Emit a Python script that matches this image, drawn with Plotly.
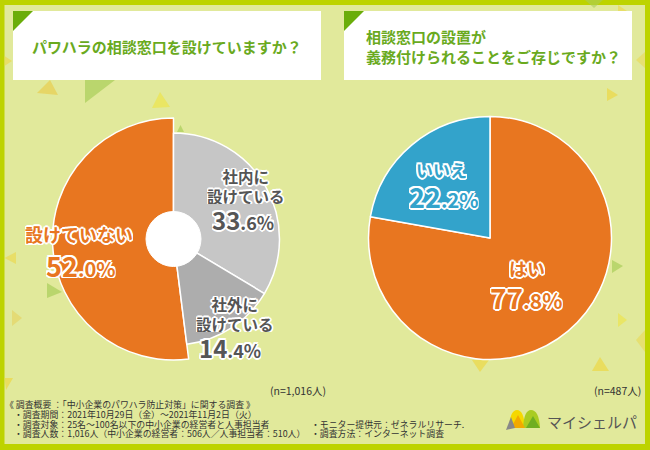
import plotly.graph_objects as go

# ---------------- data ----------------
q1_title = "パワハラの相談窓口を設けていますか？"
q1_labels = ["社内に<br>設けている", "社外に<br>設けている", "設けていない"]
q1_values = [33.6, 14.4, 52.0]
q1_n = "(n=1,016人)"

q2_title = "相談窓口の設置が<br>義務付けられることをご存じですか？"
q2_labels = ["はい", "いいえ"]
q2_values = [77.8, 22.2]
q2_n = "(n=487人)"

footer_left = [
    "《 調査概要 ：「中小企業のパワハラ防止対策」に関する調査 》",
    "・調査期間：2021年10月29日（金）～2021年11月2日（火）",
    "・調査対象：25名～100名以下の中小企業の経営者と人事担当者",
    "・調査人数：1,016人（中小企業の経営者：506人／人事担当者：510人）",
]
footer_right = [
    "・モニター提供元：ゼネラルリサーチ.",
    "・調査方法：インターネット調査",
]
brand = "マイシェルパ"

# ---------------- styles ----------------
W, H = 650, 450
BG = "#E1E99B"
FRAME = "#BDD300"
ORANGE = "#E87620"
GRAY_L = "#C6C6C6"
GRAY_D = "#ADADAD"
BLUE = "#33A3CB"
TITLE_GREEN = "#6AAA1E"
CORNER_GREEN = "#6AAD0A"
TXT = "#333333"
CLEAR = "rgba(0,0,0,0)"
FONT = "Noto Sans CJK JP"


def dom_x(cx, r):
    return [(cx - r) / W, (cx + r) / W]


def dom_y(cy, r):
    return [1 - (cy + r) / H, 1 - (cy - r) / H]


def outline(w=2, c="white"):
    s = []
    for dx, dy in [(w, 0), (-w, 0), (0, w), (0, -w), (w * .7, w * .7), (-w * .7, -w * .7), (w * .7, -w * .7), (-w * .7, w * .7)]:
        s.append(f"{dx:.1f}px {dy:.1f}px 0px {c}")
    return ", ".join(s)


def pct_text(v, big, small):
    whole, dec = f"{v:.1f}".split(".")
    return f"<span style='font-size:{big}px'>{whole}</span><span style='font-size:{small}px'>.{dec}%</span>"


fig = go.Figure()

# invisible trace so that pixel-based cartesian axes exist for shapes/annotations
fig.add_trace(go.Scatter(x=[None], y=[None], mode="markers", showlegend=False, hoverinfo="skip"))

# left pie: orange (larger radius) and grey slices (smaller radius)
c1x, c1y = 173.5, 239
fig.add_trace(go.Pie(
    values=q1_values, labels=q1_labels, sort=False, direction="clockwise", rotation=0,
    marker=dict(colors=[CLEAR, CLEAR, ORANGE], line=dict(color="white", width=[0, 0, 1.5])),
    textinfo="none", hoverinfo="skip", showlegend=False,
    domain=dict(x=dom_x(c1x, 121), y=dom_y(c1y, 121)),
))
fig.add_trace(go.Pie(
    values=q1_values, labels=q1_labels, sort=False, direction="clockwise", rotation=0,
    marker=dict(colors=[GRAY_L, GRAY_D, CLEAR], line=dict(color="white", width=[1.5, 1.5, 0])),
    textinfo="none", hoverinfo="skip", showlegend=False,
    domain=dict(x=dom_x(c1x, 106), y=dom_y(c1y, 106)),
))
# right pie
c2x, c2y = 490, 238
fig.add_trace(go.Pie(
    values=q2_values, labels=q2_labels, sort=False, direction="clockwise", rotation=0,
    marker=dict(colors=[ORANGE, BLUE], line=dict(color="white", width=1.5)),
    textinfo="none", hoverinfo="skip", showlegend=False,
    domain=dict(x=dom_x(c2x, 121.5), y=dom_y(c2y, 121.5)),
))

shapes = []
# frame edges
shapes += [
    dict(type="rect", x0=0, x1=W, y0=0, y1=5, fillcolor=FRAME, line_width=0, layer="below"),
    dict(type="rect", x0=0, x1=W, y0=444, y1=H, fillcolor=FRAME, line_width=0, layer="below"),
    dict(type="rect", x0=0, x1=4.5, y0=0, y1=H, fillcolor=FRAME, line_width=0, layer="below"),
    dict(type="rect", x0=645, x1=W, y0=0, y1=H, fillcolor=FRAME, line_width=0, layer="below"),
]
# decorative triangles
tris = [
    ("M37,93 L58,95 L50,80 Z", "rgba(232,205,80,0.7)"),
    ("M85,80 L115,80 L85,103 Z", "rgba(170,205,90,0.7)"),
    ("M152,108 L170,107 L160,92 Z", "rgba(236,228,80,0.75)"),
    ("M4.5,56 L12,61 L4.5,66 Z", "rgba(236,215,70,0.6)"),
    ("M177,132 L184,132 L180.5,125 Z", "rgba(170,205,90,0.7)"),
    ("M4.5,258 L16,252 L16,264 Z", "rgba(236,215,70,0.6)"),
    ("M47,283 L62,292 L47,298 Z", "rgba(170,205,90,0.7)"),
    ("M12,310 L22,318 L12,326 Z", "rgba(232,205,80,0.5)"),
    ("M4.5,378 L13,378 L6,390 Z", "rgba(236,215,70,0.7)"),
    ("M585,0 L603,0 L594,8 Z", "rgba(170,205,90,0.6)"),
    ("M618,5 L630,13 L618,20 Z", "rgba(236,215,70,0.6)"),
    ("M607,88 L618,95 L607,101 Z", "rgba(236,215,70,0.7)"),
    ("M636,60 L645,52 L645,68 Z", "rgba(236,215,70,0.5)"),
    ("M612,260 L623,266 L612,273 Z", "rgba(170,205,90,0.7)"),
    ("M618,313 L627,320 L618,327 Z", "rgba(236,228,80,0.7)"),
    ("M472,360 L489,360 L480,372 Z", "rgba(236,215,70,0.7)"),
    ("M592,371 L609,371 L600,357 Z", "rgba(236,215,70,0.7)"),
    ("M636,340 L645,330 L645,352 Z", "rgba(236,215,70,0.5)"),
]
for p, c in tris:
    shapes.append(dict(type="path", path=p, fillcolor=c, line_width=0, layer="below"))

# title boxes
for x0, x1 in [(13, 321), (344, 632)]:
    shapes.append(dict(type="rect", x0=x0, x1=x1, y0=11, y1=80, fillcolor="white", line_width=0, layer="below"))
    shapes.append(dict(type="path", path=f"M{x0},11 L{x0+20},11 L{x0},31 Z", fillcolor=CORNER_GREEN, line_width=0, layer="below"))

# donut hole (above)
shapes.append(dict(type="circle", x0=c1x - 27.5, x1=c1x + 27.5, y0=c1y - 27.5, y1=c1y + 27.5,
                   fillcolor="white", line=dict(color="white", width=1), layer="above"))

# logo
logo = [
    ("M509,428 Q510,410 517,410 Q524,410 525,428 Z", "#F5D800"),
    ("M523,428 Q524,410 531,410 Q539,410 540,428 Z", "#A9CC22"),
    ("M511,428 L518,415 L525,428 Z", "#F2A900"),
    ("M506,430 L511,417 L515,428 Z", "#888888"),
    ("M526,428 L533,416 L540,428 Z", "#6FAE22"),
]
for p, c in logo:
    shapes.append(dict(type="path", path=p, fillcolor=c, line_width=0, layer="above"))

annotations = []
# titles
annotations.append(dict(x=167, y=46, text=q1_title, showarrow=False, xanchor="center", yanchor="middle",
                        font=dict(family=FONT, size=15, color=TITLE_GREEN, weight="bold")))
annotations.append(dict(x=364, y=46, text=q2_title, showarrow=False, xanchor="left", yanchor="middle", align="left",
                        font=dict(family=FONT, size=15, color=TITLE_GREEN, weight="bold")))

# pie labels
sh = outline(2)
lab_pos1 = [(245.5, 186), (234.5, 314), (79, 234)]
val_pos1 = [(243, 219), (230, 347), (80, 265)]
lab_size1 = [15.5, 15.5, 18]
val_big1 = [24, 24, 27]
val_small1 = [18, 18, 20]
lab_col1 = ["#555555", "#555555", ORANGE]
for i in range(3):
    annotations.append(dict(x=lab_pos1[i][0], y=lab_pos1[i][1], text=q1_labels[i], showarrow=False,
                            xanchor="center", yanchor="middle", height=(36 if "<br>" in q1_labels[i] else 22),
                            font=dict(family=FONT, size=lab_size1[i], color=lab_col1[i], weight="bold", shadow=sh)))
    annotations.append(dict(x=val_pos1[i][0], y=val_pos1[i][1], text=pct_text(q1_values[i], val_big1[i], val_small1[i]),
                            showarrow=False, xanchor="center", yanchor="middle", height=26,
                            font=dict(family=FONT, size=val_big1[i], color=lab_col1[i], weight="bold", shadow=sh)))

lab_pos2 = [(527, 268), (441, 169)]
val_pos2 = [(526, 297), (443, 196)]
lab_size2 = [18, 17]
val_big2 = [28, 27]
val_small2 = [21, 20]
lab_col2 = [ORANGE, BLUE]
for i in range(2):
    annotations.append(dict(x=lab_pos2[i][0], y=lab_pos2[i][1], text=q2_labels[i], showarrow=False,
                            xanchor="center", yanchor="middle", height=22,
                            font=dict(family=FONT, size=lab_size2[i], color=lab_col2[i], weight="bold", shadow=sh)))
    annotations.append(dict(x=val_pos2[i][0], y=val_pos2[i][1], text=pct_text(q2_values[i], val_big2[i], val_small2[i]),
                            showarrow=False, xanchor="center", yanchor="middle", height=28,
                            font=dict(family=FONT, size=val_big2[i], color=lab_col2[i], weight="bold", shadow=sh)))

# n labels
annotations.append(dict(x=298, y=390, text=q1_n, showarrow=False, xanchor="center", yanchor="middle",
                        font=dict(family=FONT, size=10.5, color=TXT)))
annotations.append(dict(x=617, y=390, text=q2_n, showarrow=False, xanchor="center", yanchor="middle",
                        font=dict(family=FONT, size=10.5, color=TXT)))

# footer
for i, t in enumerate(footer_left):
    annotations.append(dict(x=(3 if i == 0 else 12), y=405 + i * 9.8, text=t, showarrow=False,
                            xanchor="left", yanchor="middle", height=9.6,
                            font=dict(family=FONT, size=8.9, color=TXT)))
for i, t in enumerate(footer_right):
    annotations.append(dict(x=309, y=424.6 + i * 9.8, text=t, showarrow=False, xanchor="left", yanchor="middle",
                            height=9.6, font=dict(family=FONT, size=8.9, color=TXT)))
annotations.append(dict(x=545, y=421, text=brand, showarrow=False, xanchor="left", yanchor="middle",
                        font=dict(family=FONT, size=15, color="#555555")))

fig.update_layout(
    width=W, height=H, margin=dict(l=0, r=0, t=0, b=0),
    paper_bgcolor=BG, plot_bgcolor="rgba(0,0,0,0)",
    xaxis=dict(range=[0, W], visible=False, fixedrange=True, domain=[0, 1]),
    yaxis=dict(range=[H, 0], visible=False, fixedrange=True, domain=[0, 1]),
    shapes=shapes, annotations=annotations, showlegend=False,
)

fig.write_html("out.html", config={"displayModeBar": False, "staticPlot": True},
               post_script="document.body.style.margin='0';document.body.style.overflow='hidden';")
